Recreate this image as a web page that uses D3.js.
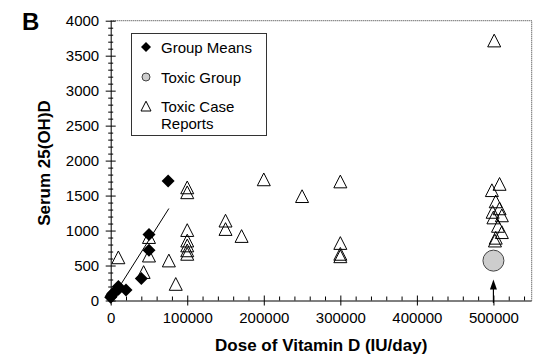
<!DOCTYPE html>
<html>
<head>
<meta charset="utf-8">
<script src="https://cdn.jsdelivr.net/npm/d3@7"></script>
<style>
  html, body { margin: 0; padding: 0; background: #fff; }
  svg { display: block; font-family: "Liberation Sans", Arial, sans-serif; }
</style>
</head>
<body>
<svg id="chart" width="554" height="359"></svg>
<script>
// ---- data ----
const xTicks = [0, 100000, 200000, 300000, 400000, 500000];
const yTicks = [0, 500, 1000, 1500, 2000, 2500, 3000, 3500, 4000];

// Group means (diamonds)
const meansDose  = [0, 1000, 2000, 4000, 10000, 10000, 20000, 40000, 50000, 50000, 75000];
const meansSerum = [45, 65, 90, 110, 160, 200, 150, 315, 720, 945, 1710];

// Toxic group (circle)
const toxicDose  = [500000];
const toxicSerum = [570];

// Toxic case reports (triangles)
const caseDose = [10000, 43000, 50000, 50000, 76000, 85000,
  100000, 100000, 100000, 100000, 100000, 100000, 100000,
  150000, 150000, 171000, 200000, 250000,
  300000, 300000, 300000, 300000,
  501000, 508000, 498000, 503000, 508000, 499000, 511000, 500000, 506000, 511000, 503000, 502000];
const caseSerum = [600, 390, 890, 625, 555, 220,
  1600, 1530, 990, 840, 770, 700, 650,
  1125, 1005, 905, 1715, 1475,
  1685, 805, 650, 615,
  3700, 1650, 1560, 1400, 1300, 1250, 1200, 1170, 1050, 960, 880, 840];

// regression line for group means (endpoints)
const fitDose  = [5000, 76000];
const fitSerum = [87, 1315];

// annotation arrow under the toxic group
const arrowDose  = [500000, 500000];
const arrowSerum = [-35, 300];

const legendLabels = ["Group Means", "Toxic Group", ["Toxic Case", "Reports"]];

// ---- layout ----
const svg = d3.select("#chart");
const x = d3.scaleLinear().domain([0, 550000]).range([110.7, 531.7]);
const y = d3.scaleLinear().domain([0, 4000]).range([300.5, 20.7]);
const x0 = x(0), y0 = y(0);

const diamond = (cx, cy, r) => `M${cx},${cy - r}L${cx + r},${cy}L${cx},${cy + r}L${cx - r},${cy}Z`;
const triangle = (cx, cy, s) => `M${cx},${cy - s * 0.58}L${cx + s / 2},${cy + s * 0.4}L${cx - s / 2},${cy + s * 0.4}Z`;

// frame (top/right dotted)
svg.append("path")
  .attr("d", `M${x0},${y(4000)}H${x(550000)}V${y0}`)
  .attr("fill", "none").attr("stroke", "#333").attr("stroke-width", 1)
  .attr("stroke-dasharray", "1 1");

// x axis
const xMinor = d3.range(0, 550001, 20000).filter(v => v % 100000 !== 0);
svg.append("g").attr("transform", `translate(0,${y0})`)
  .call(d3.axisBottom(x).tickValues(xMinor).tickSize(-4).tickFormat(""))
  .call(g => g.select(".domain").remove())
  .call(g => g.selectAll("line").attr("stroke", "#000"));
const gx = svg.append("g").attr("transform", `translate(0,${y0})`)
  .call(d3.axisBottom(x).tickValues(xTicks).tickSize(5).tickSizeOuter(0).tickFormat(d3.format("d")));
gx.select(".domain").attr("stroke", "#000").attr("d", `M${x0},0.5H${x(550000)}`);
gx.selectAll(".tick line").attr("y1", -5).attr("stroke", "#000");
gx.selectAll(".tick text").attr("y", 12).attr("dy", "0.71em")
  .attr("font-size", 15).attr("fill", "#000").attr("font-family", "Liberation Sans, Arial, sans-serif");

// y axis
const yMinor = d3.range(0, 4001, 100).filter(v => v % 500 !== 0);
svg.append("g").attr("transform", `translate(${x0},0)`)
  .call(d3.axisLeft(y).tickValues(yMinor).tickSize(2.5).tickFormat(""))
  .call(g => g.select(".domain").remove())
  .call(g => g.selectAll("line").attr("x2", -2.5).attr("x1", 2.5).attr("stroke", "#000"));
const gy = svg.append("g").attr("transform", `translate(${x0},0)`)
  .call(d3.axisLeft(y).tickValues(yTicks).tickSize(5).tickSizeOuter(0).tickFormat(d3.format("d")));
gy.select(".domain").attr("stroke", "#000");
gy.selectAll(".tick line").attr("x1", 5).attr("stroke", "#000");
gy.selectAll(".tick text").attr("x", -11.5).attr("dy", "0.34em")
  .attr("font-size", 15).attr("fill", "#000").attr("font-family", "Liberation Sans, Arial, sans-serif");

// axis titles
svg.append("text").attr("x", (x0 + x(550000)) / 2).attr("y", 351)
  .attr("text-anchor", "middle").attr("font-weight", "bold").attr("font-size", 17)
  .text("Dose of Vitamin D (IU/day)");
svg.append("text").attr("transform", `translate(50,163) rotate(-90)`)
  .attr("text-anchor", "middle").attr("font-weight", "bold").attr("font-size", 17)
  .text("Serum 25(OH)D");
svg.append("text").attr("x", 22).attr("y", 30)
  .attr("font-weight", "bold").attr("font-size", 24).text("B");

// regression line
svg.append("line")
  .attr("x1", x(fitDose[0])).attr("y1", y(fitSerum[0]))
  .attr("x2", x(fitDose[1])).attr("y2", y(fitSerum[1]))
  .attr("stroke", "#000").attr("stroke-width", 1);

// triangles
svg.append("g").selectAll("path").data(caseDose.map((d, i) => [d, caseSerum[i]]))
  .join("path")
  .attr("d", d => triangle(x(d[0]), y(d[1]), 13))
  .attr("fill", "none").attr("stroke", "#000").attr("stroke-width", 1);

// toxic group circle
svg.append("g").selectAll("circle").data(toxicDose.map((d, i) => [d, toxicSerum[i]]))
  .join("circle")
  .attr("cx", d => x(d[0])).attr("cy", d => y(d[1])).attr("r", 10.5)
  .attr("fill", "#cdcdcd").attr("stroke", "#444").attr("stroke-width", 1);

// diamonds
svg.append("g").selectAll("path").data(meansDose.map((d, i) => [d, meansSerum[i]]))
  .join("path")
  .attr("d", d => diamond(x(d[0]), y(d[1]), 6.5))
  .attr("fill", "#000");

// arrow
const ax = x(arrowDose[0]);
svg.append("line").attr("x1", ax).attr("x2", ax)
  .attr("y1", y(arrowSerum[0])).attr("y2", y(arrowSerum[1]) + 8)
  .attr("stroke", "#000").attr("stroke-width", 1.2);
svg.append("path")
  .attr("d", `M${ax},${y(arrowSerum[1])}L${ax + 3.5},${y(arrowSerum[1]) + 10}L${ax - 3.5},${y(arrowSerum[1]) + 10}Z`)
  .attr("fill", "#000");

// legend
const lg = svg.append("g");
lg.append("rect").attr("x", 131.5).attr("y", 33.5).attr("width", 135).attr("height", 102)
  .attr("fill", "#fff").attr("stroke", "#333").attr("stroke-width", 1);
const lx = 146;
lg.append("path").attr("d", diamond(lx, 47, 5)).attr("fill", "#000");
lg.append("circle").attr("cx", lx).attr("cy", 77).attr("r", 4)
  .attr("fill", "#cdcdcd").attr("stroke", "#444");
lg.append("path").attr("d", triangle(lx, 107, 10)).attr("fill", "none").attr("stroke", "#000");
lg.append("text").attr("x", 161).attr("y", 53).attr("font-size", 15).text(legendLabels[0]);
lg.append("text").attr("x", 161).attr("y", 83).attr("font-size", 15).text(legendLabels[1]);
lg.append("text").attr("x", 161).attr("y", 111.5).attr("font-size", 15).text(legendLabels[2][0]);
lg.append("text").attr("x", 161).attr("y", 128.5).attr("font-size", 15).text(legendLabels[2][1]);
</script>
</body>
</html>
